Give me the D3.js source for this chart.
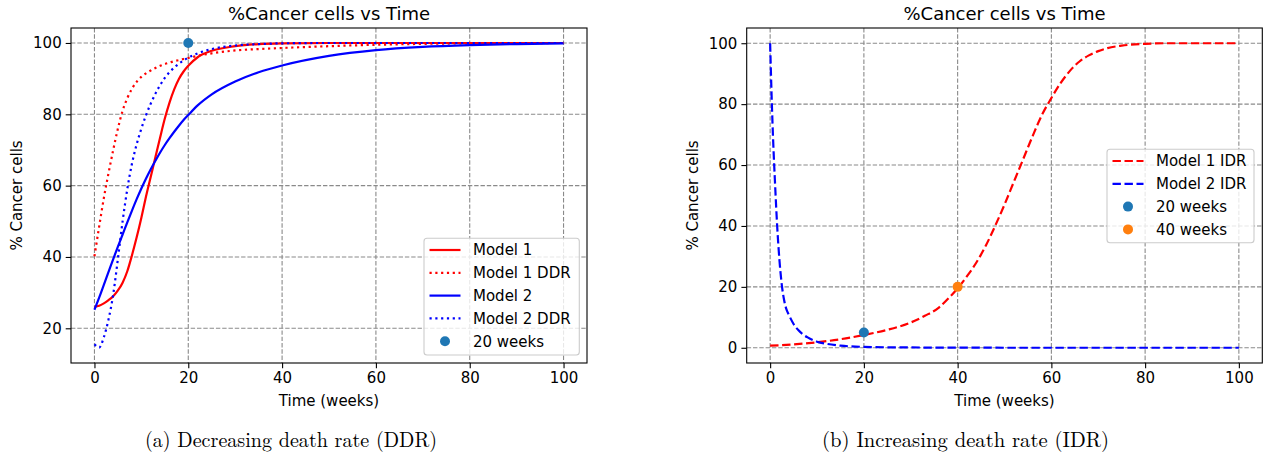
<!DOCTYPE html>
<html><head><meta charset="utf-8">
<script src="https://cdn.jsdelivr.net/npm/d3@7"></script>
<style>
body{margin:0;background:#fff}
svg{display:block}
text{fill:#000}
</style>
</head><body>
<svg id="c" width="1271" height="461"></svg>
<script>
// ---------- data ----------
const xTickValues = [0, 20, 40, 60, 80, 100];
const yTicksA = [20, 40, 60, 80, 100];
const yTicksB = [0, 20, 40, 60, 80, 100];

// Panel (a): decreasing death rate
const weeksA = [0,1,2,3,4,5,6,7,8,9,10,11,12,13,14,15,16,17,18,19,20,22,25,30,35,40,50,60,70,80,90,100];
const model1 = [26,26.3,27,27.9,29,30.6,32.8,36,40.5,45.5,51,57,62.5,68,73.5,78.8,83.3,87,89.9,92,93.6,96,97.8,99.1,99.7,99.9,100,100,100,100,100,100];
const model1DDR = [40.2,48.5,56.5,63.5,70,76,81,84.5,87.2,89.1,90.5,91.5,92.3,93,93.6,94.1,94.5,94.9,95.2,95.5,95.8,96.4,97.1,97.9,98.3,98.6,99.1,99.5,99.75,99.9,99.95,100];
const model2 = [25.2,28.6,32.2,35.8,39.4,42.9,46.3,49.7,53,56.2,59.2,62,64.6,67,69.3,71.4,73.3,75.1,76.8,78.4,79.8,82.5,85.6,89.2,91.8,93.7,96.4,98,98.9,99.4,99.7,99.9];
const model2DDR = [15.5,14.6,17.5,22.5,29.5,39.5,50,59,66.2,71.6,76,79.8,83,85.8,88.2,90.2,91.8,93.1,94.2,95.1,95.9,97.1,98.3,99.3,99.7,99.9,100,100,100,100,100,100];
const pointWeeksA = [20];
const pointValuesA = [100];

// Panel (b): increasing death rate
const weeksB1 = [0,5,10,15,20,25,30,33,36,38,40,42,44,46,48,50,52,54,56,58,60,62,64,66,68,70,72,75,80,85,90,100];
const model1IDR = [0.7,1.1,1.8,2.8,4.2,5.9,8.3,10.5,13.2,16.2,19.5,23.5,28,33.5,40,47,54.5,62,69.5,76.5,82,87,91,94,96,97.4,98.4,99.2,99.8,100,100,100];
const weeksB2 = [0,0.25,0.5,0.75,1,1.5,2,2.5,3,3.5,4,5,6,7,8,10,12,15,20,30,40,60,80,100];
const model2IDR = [100,86,74,64,55.5,40,28.5,20.5,15.5,12.5,10.8,7.8,5.8,4.4,3.4,2.0,1.3,0.7,0.3,0.1,0.05,0,0,0];
const pointWeeksB = [20, 40];
const pointValuesB = [5, 20];

const titleText = "%Cancer cells vs Time";
const xLabel = "Time (weeks)";
const yLabel = "% Cancer cells";
const captionA = "(a) Decreasing death rate (DDR)";
const captionB = "(b) Increasing death rate (IDR)";

// ---------- drawing ----------
const svg = d3.select("#c");
const SANS = "'DejaVu Sans', sans-serif";
const SERIF = "'Latin Modern Roman', 'CMU Serif', 'Liberation Serif', serif";
const DOT = "2.2 3.6", DASH = "8.4 3.6", SOLID = null;

function panel(p) {
  const x = d3.scaleLinear().domain([-5, 105]).range([p.left, p.right]);
  const y = d3.scaleLinear().domain(p.yDomain).range([p.bottom, p.top]);
  const g = svg.append("g").style("font-family", SANS);

  // grid
  const grid = g.append("g");
  grid.append("g").selectAll("line").data(xTickValues).join("line")
    .attr("x1", d => x(d)).attr("x2", d => x(d))
    .attr("y1", p.top).attr("y2", p.bottom);
  grid.append("g").selectAll("line").data(p.yTicks).join("line")
    .attr("y1", d => y(d)).attr("y2", d => y(d))
    .attr("x1", p.left).attr("x2", p.right);
  grid.selectAll("line").attr("stroke", "#8a8a8a").attr("stroke-width", 1.1)
    .attr("stroke-dasharray", "4.4 1.9");

  // series
  const line = d3.line().x(d => x(d[0])).y(d => y(d[1])).curve(d3.curveMonotoneX);
  p.series.forEach(s => {
    g.append("path").datum(d3.zip(s.t, s.v))
      .attr("d", line).attr("fill", "none")
      .attr("stroke", s.color).attr("stroke-width", 2.2)
      .attr("stroke-dasharray", s.dash);
  });

  // points
  p.points.forEach(pt => {
    g.append("circle").attr("cx", x(pt.t)).attr("cy", y(pt.v)).attr("r", 5)
      .attr("fill", pt.color);
  });

  // axes
  const ax = g.append("g").attr("transform", `translate(0,${p.bottom})`)
    .call(d3.axisBottom(x).tickValues(xTickValues).tickSize(5.3).tickPadding(4).tickFormat(d3.format("d")));
  const ay = g.append("g").attr("transform", `translate(${p.left},0)`)
    .call(d3.axisLeft(y).tickValues(p.yTicks).tickSize(5.3).tickPadding(4).tickFormat(d3.format("d")));
  [ax, ay].forEach(a => {
    a.select(".domain").remove();
    a.selectAll("line").attr("stroke", "#000").attr("stroke-width", 1.1);
    a.selectAll("text").style("font-size", "15px").style("font-family", SANS).attr("fill", "#000");
  });

  // frame
  g.append("rect").attr("x", p.left).attr("y", p.top)
    .attr("width", p.right - p.left).attr("height", p.bottom - p.top)
    .attr("fill", "none").attr("stroke", "#000").attr("stroke-width", 1.1);

  // title & labels
  const cx = (p.left + p.right) / 2;
  g.append("text").attr("x", cx).attr("y", 19.5).attr("text-anchor", "middle")
    .style("font-size", "18px").text(titleText);
  g.append("text").attr("x", cx).attr("y", 406).attr("text-anchor", "middle")
    .style("font-size", "15px").text(xLabel);
  g.append("text").attr("transform", `translate(${p.left - 49},${(p.top + p.bottom) / 2}) rotate(-90)`)
    .attr("text-anchor", "middle").style("font-size", "15px").text(yLabel);

  // legend
  const L = p.legend;
  const lg = g.append("g");
  lg.append("rect").attr("x", L.x).attr("y", L.y).attr("width", L.w).attr("height", L.h)
    .attr("rx", 3).attr("fill", "#fff").attr("fill-opacity", 0.8)
    .attr("stroke", "#cccccc").attr("stroke-width", 1.1);
  L.items.forEach((it, i) => {
    const ry = L.y + 11.7 + i * 22.8;
    const hx = L.x + 5.5;
    if (it.type === "line") {
      lg.append("line").attr("x1", hx).attr("x2", hx + 31).attr("y1", ry).attr("y2", ry)
        .attr("stroke", it.color).attr("stroke-width", 2.2).attr("stroke-dasharray", it.dash);
    } else {
      lg.append("circle").attr("cx", hx + 15.5).attr("cy", ry).attr("r", 5).attr("fill", it.color);
    }
    lg.append("text").attr("x", hx + 43.5).attr("y", ry + 5.4).style("font-size", "15px").text(it.label);
  });

  // caption
  svg.append("text").attr("x", p.capX).attr("y", 446.5).attr("text-anchor", "middle")
    .style("font-family", SERIF).style("font-size", "21px")
    .attr("textLength", p.capW).attr("lengthAdjust", "spacingAndGlyphs")
    .text(p.caption);
}

panel({
  left: 71, right: 587, top: 28, bottom: 363,
  yDomain: [10.27, 104.2], yTicks: yTicksA,
  series: [
    {t: weeksA, v: model1, color: "#ff0000", dash: SOLID},
    {t: weeksA, v: model1DDR, color: "#ff0000", dash: DOT},
    {t: weeksA, v: model2, color: "#0000ff", dash: SOLID},
    {t: weeksA, v: model2DDR, color: "#0000ff", dash: DOT}
  ],
  points: pointWeeksA.map((t, i) => ({t, v: pointValuesA[i], color: "#1f77b4"})),
  legend: {x: 424, y: 238.3, w: 155.3, h: 116.7, items: [
    {type: "line", color: "#ff0000", dash: SOLID, label: "Model 1"},
    {type: "line", color: "#ff0000", dash: DOT, label: "Model 1 DDR"},
    {type: "line", color: "#0000ff", dash: SOLID, label: "Model 2"},
    {type: "line", color: "#0000ff", dash: DOT, label: "Model 2 DDR"},
    {type: "dot", color: "#1f77b4", label: "20 weeks"}
  ]},
  caption: captionA, capX: 291, capW: 292
});

panel({
  left: 746.7, right: 1262.3, top: 28, bottom: 363,
  yDomain: [-5, 105], yTicks: yTicksB,
  series: [
    {t: weeksB1, v: model1IDR, color: "#ff0000", dash: DASH},
    {t: weeksB2, v: model2IDR, color: "#0000ff", dash: DASH}
  ],
  points: pointWeeksB.map((t, i) => ({t, v: pointValuesB[i], color: ["#1f77b4", "#ff7f0e"][i]})),
  legend: {x: 1107, y: 149.3, w: 147, h: 93.4, items: [
    {type: "line", color: "#ff0000", dash: DASH, label: "Model 1 IDR"},
    {type: "line", color: "#0000ff", dash: DASH, label: "Model 2 IDR"},
    {type: "dot", color: "#1f77b4", label: "20 weeks"},
    {type: "dot", color: "#ff7f0e", label: "40 weeks"}
  ]},
  caption: captionB, capX: 965.5, capW: 287
});
</script>
</body></html>
